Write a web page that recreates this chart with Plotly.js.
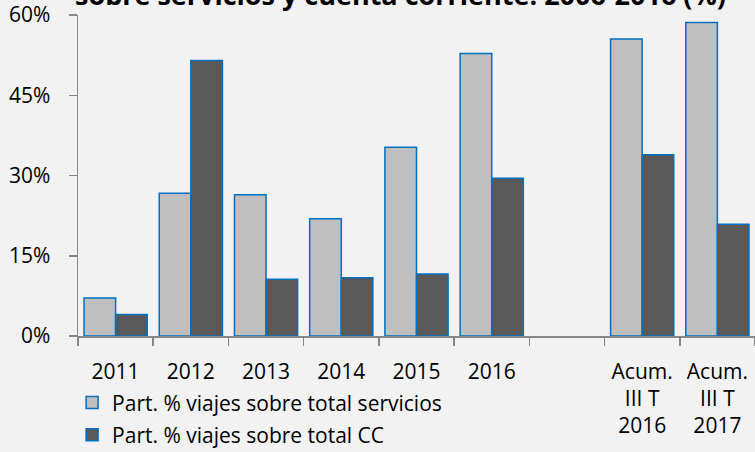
<!DOCTYPE html>
<html>
<head>
<meta charset="utf-8">
<script src="https://cdn.plot.ly/plotly-3.0.1.min.js"></script>
<style>
html,body{margin:0;padding:0;background:#F2F2F2;}
#chart{width:755px;height:452px;}
</style>
</head>
<body>
<div id="chart"></div>
<script>
const categories = ["2011", "2012", "2013", "2014", "2015", "2016", " ", "Acum.<br>III T<br>2016", "Acum.<br>III T<br>2017"];
const serviciosValues = [7.1, 26.7, 26.4, 21.9, 35.3, 52.8, null, 55.5, 58.6];
const ccValues = [4.0, 51.5, 10.6, 10.9, 11.6, 29.5, null, 33.9, 20.9];
const seriesNames = ["Part. % viajes sobre total servicios", "Part. % viajes sobre total CC"];
const titleText = "sobre servicios y cuenta corriente. 2006-2016 (%)";

const FONT = "Open Sans, sans-serif";
const axisGrey = "#878787";

const traces = [
  {
    type: "bar", name: seriesNames[0], x: categories, y: serviciosValues,
    legendgroup: "a",
    marker: {color: "#BFBFBF", line: {color: "#0070C0", width: 1.5}},
    hoverinfo: "skip"
  },
  {
    type: "bar", name: seriesNames[1], x: categories, y: ccValues,
    legendgroup: "b",
    marker: {color: "#595959", line: {color: "#0070C0", width: 1.5}},
    hoverinfo: "skip"
  }
];

const layout = {
  width: 755, height: 452,
  paper_bgcolor: "#F2F2F2", plot_bgcolor: "#F2F2F2",
  margin: {l: 78, r: 0, t: 15, b: 116, pad: 0, autoexpand: false},
  font: {family: FONT, size: 21, color: "#000"},
  barmode: "group", bargap: 0.16, bargroupgap: 0,
  showlegend: true,
  legend: {
    xref: "container", yref: "container",
    x: 0.0955, y: 0.154, xanchor: "left", yanchor: "top",
    orientation: "v", traceorder: "grouped", tracegroupgap: 2,
    bgcolor: "rgba(0,0,0,0)", font: {family: FONT, size: 21, color: "#000"},
    itemwidth: 30
  },
  xaxis: {
    type: "category", tickson: "boundaries", ticks: "outside", ticklen: 8,
    tickwidth: 1.5, tickcolor: axisGrey, showline: true, linecolor: axisGrey, linewidth: 1.5,
    showgrid: false, zeroline: false, ticklabelstandoff: 16, automargin: false,
    tickfont: {family: FONT, size: 21, color: "#000"}, fixedrange: true
  },
  yaxis: {
    range: [0, 60], dtick: 15, tick0: 0, ticksuffix: "%", ticks: "outside", ticklen: 8,
    tickwidth: 1.5, tickcolor: axisGrey, showline: true, linecolor: axisGrey, linewidth: 1.5,
    showgrid: false, zeroline: false, ticklabelstandoff: 14, automargin: false,
    tickfont: {family: FONT, size: 21, color: "#000"}, fixedrange: true
  },
  annotations: [{
    text: "<b>" + titleText + "</b>", xref: "paper", yref: "paper",
    x: 0.477, y: 1.065, xanchor: "center", yanchor: "middle", showarrow: false,
    font: {family: FONT, size: 27, color: "#000"}
  }]
};

Plotly.newPlot("chart", traces, layout, {displayModeBar: false, staticPlot: true});
</script>
</body>
</html>
